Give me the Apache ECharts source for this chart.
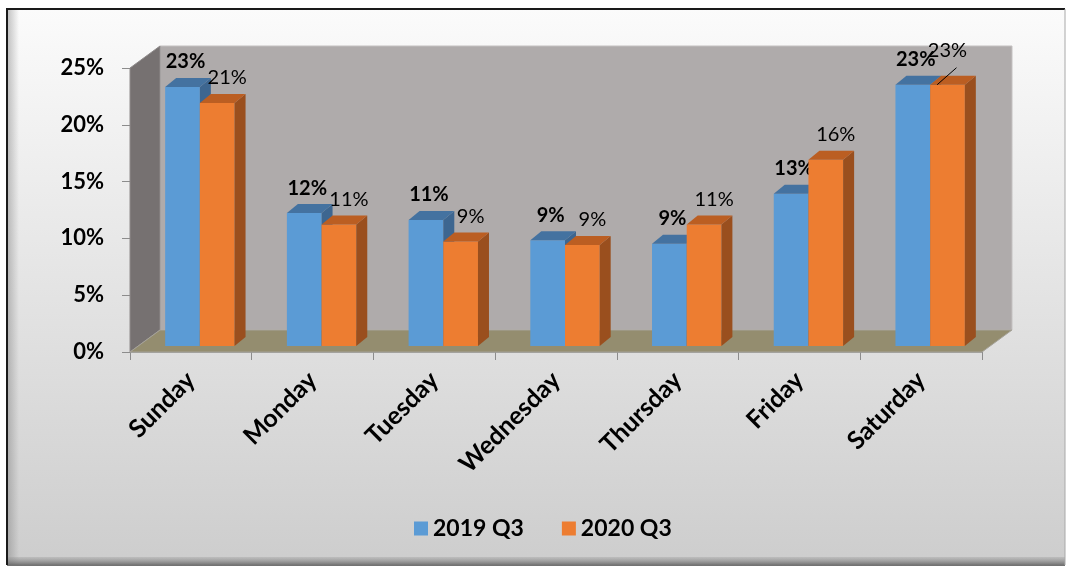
<!DOCTYPE html>
<html>
<head>
<meta charset="utf-8">
<script src="https://cdn.jsdelivr.net/npm/echarts@6/dist/echarts.min.js"></script>
<style>
  html, body { margin: 0; padding: 0; background: #fff; }
  #app { width: 1068px; height: 569px; }
</style>
</head>
<body>
<div id="app"></div>
<script>
const days = ['Sunday', 'Monday', 'Tuesday', 'Wednesday', 'Thursday', 'Friday', 'Saturday']
const q3_2019 = [0.228, 0.117, 0.111, 0.093, 0.090, 0.134, 0.230]
const q3_2020 = [0.214, 0.107, 0.092, 0.089, 0.107, 0.164, 0.230]
const seriesNames = ['2019 Q3', '2020 Q3']

const FONT = 'Lato'
const echart = echarts.init(document.getElementById('app'))

// oblique offsets for the fake 3d look
const WALL_DX = 30, WALL_DY = -22
const BAR_DX = 11, BAR_DY = -9
const BAR_SHIFT_X = 9, BAR_SHIFT_Y = -6

const pct = v => Math.round(v * 100) + '%'

function frameItem(params, api) {
  const cs = params.coordSys
  const x = cs.x, y = cs.y, w = cs.width, h = cs.height
  return {
    type: 'group',
    children: [
      {
        type: 'rect',
        shape: { x: x + WALL_DX, y: y + WALL_DY, width: w, height: h },
        style: { fill: '#afabab', stroke: '#c4c1c1', lineWidth: 1 }
      },
      {
        type: 'polygon',
        shape: { points: [[x, y], [x + WALL_DX, y + WALL_DY], [x + WALL_DX, y + h + WALL_DY], [x, y + h]] },
        style: { fill: '#767171', stroke: '#8f8b8b', lineWidth: 1 }
      },
      {
        type: 'polygon',
        shape: { points: [[x, y + h], [x + w, y + h], [x + w + WALL_DX, y + h + WALL_DY], [x + WALL_DX, y + h + WALL_DY]] },
        style: { fill: '#948d6f', stroke: '#a6a39a', lineWidth: 1 }
      }
    ]
  }
}

function barItem(which, colors, bold) {
  return function (params, api) {
    const i = api.value(0)
    const v = api.value(1)
    const b = api.coord([i, 0])
    const t = api.coord([i, v])
    const bw = api.size([1, 0])[0] * 0.285
    const x0 = b[0] + BAR_SHIFT_X - (which === 0 ? bw : 0)
    const x1 = x0 + bw
    const yb = b[1] + BAR_SHIFT_Y
    const yt = t[1] + BAR_SHIFT_Y
    let lx = (x0 + x1) / 2 + (which === 0 ? 3 : 10)
    let ly = yt - 25
    const children = [
      {
        type: 'rect',
        shape: { x: x0, y: yt, width: bw, height: yb - yt },
        style: { fill: colors[0] }
      },
      {
        type: 'polygon',
        shape: { points: [[x1, yb], [x1, yt], [x1 + BAR_DX, yt + BAR_DY], [x1 + BAR_DX, yb + BAR_DY]] },
        style: { fill: colors[2] }
      },
      {
        type: 'polygon',
        shape: { points: [[x0, yt], [x1, yt], [x1 + BAR_DX, yt + BAR_DY], [x0 + BAR_DX, yt + BAR_DY]] },
        style: { fill: colors[1] }
      }
    ]
    // second label collides with the first one when values are equal: lift it with a leader line
    if (which === 1 && Math.abs(q3_2019[i] - v) < 0.002) {
      lx -= 10
      ly -= 9
      children.push({
        type: 'line',
        shape: { x1: x0 + 7, y1: yt, x2: lx + 9, y2: ly + 17 },
        style: { stroke: '#000', lineWidth: 1 }
      })
    }
    children.push({
      type: 'text',
      x: lx,
      y: ly,
      style: {
        text: pct(v),
        fill: '#000',
        font: (bold ? 'bold ' : '') + '20px ' + FONT,
        align: 'center',
        verticalAlign: 'middle'
      }
    })
    return { type: 'group', children }
  }
}

echart.setOption({
  backgroundColor: '#fff',
  animation: false,
  graphic: [
    {
      type: 'rect',
      z: -10,
      shape: { x: 7, y: 9, width: 1058, height: 556 },
      style: {
        fill: {
          type: 'linear', x: 0, y: 0, x2: 0, y2: 1,
          colorStops: [
            { offset: 0, color: '#fbfbfb' },
            { offset: 1, color: '#cdcdcd' }
          ]
        }
      }
    },
    {
      type: 'rect',
      z: -9,
      shape: { x: 7, y: 9, width: 12, height: 556 },
      style: {
        fill: {
          type: 'linear', x: 0, y: 0, x2: 1, y2: 0,
          colorStops: [
            { offset: 0, color: 'rgba(120,120,120,0.45)' },
            { offset: 1, color: 'rgba(120,120,120,0)' }
          ]
        }
      }
    },
    {
      type: 'rect',
      z: -9,
      shape: { x: 7, y: 557, width: 1058, height: 9 },
      style: {
        fill: {
          type: 'linear', x: 0, y: 0, x2: 0, y2: 1,
          colorStops: [
            { offset: 0, color: 'rgba(150,150,150,0.3)' },
            { offset: 1, color: 'rgba(90,90,90,0.9)' }
          ]
        }
      }
    },
    {
      type: 'polyline',
      z: -8,
      shape: { points: [[7, 565], [7, 9], [1065, 9]] },
      style: { stroke: '#1a1a1a', lineWidth: 2, fill: null }
    },
    {
      type: 'line',
      z: -8,
      shape: { x1: 1065, y1: 9, x2: 1065, y2: 565 },
      style: { stroke: '#a8a8a8', lineWidth: 1 }
    }
  ],
  grid: {
    left: 130,
    right: 86,
    top: 68,
    bottom: 217
  },
  legend: {
    data: seriesNames,
    bottom: 24,
    left: 409,
    icon: 'rect',
    itemWidth: 14,
    itemHeight: 14,
    itemGap: 38,
    textStyle: {
      color: '#000',
      fontFamily: FONT,
      fontWeight: 'bold',
      fontSize: 23
    }
  },
  xAxis: {
    type: 'category',
    data: days,
    axisLine: { lineStyle: { color: '#a0a0a0', width: 1 } },
    axisTick: { show: true, length: 8, lineStyle: { color: '#8c8c8c' } },
    axisLabel: {
      rotate: 45,
      interval: 0,
      margin: 24,
      color: '#000',
      fontFamily: FONT,
      fontWeight: 'bold',
      fontSize: 25
    },
    splitLine: { show: false }
  },
  yAxis: {
    type: 'value',
    min: 0,
    max: 0.25,
    interval: 0.05,
    axisLine: { show: true, lineStyle: { color: '#a6a6a6' } },
    axisTick: { show: true, length: 8, lineStyle: { color: '#8c8c8c' } },
    axisLabel: {
      formatter: pct,
      margin: 26,
      color: '#000',
      fontFamily: FONT,
      fontWeight: 'bold',
      fontSize: 22
    },
    splitLine: { show: false }
  },
  series: [
    {
      type: 'custom',
      name: 'frame',
      silent: true,
      z: 1,
      renderItem: frameItem,
      data: [[0, 0]]
    },
    {
      type: 'custom',
      name: seriesNames[0],
      z: 3,
      itemStyle: { color: '#5b9bd5' },
      renderItem: barItem(0, ['#5b9bd5', '#4472a0', '#3d6690'], true),
      encode: { x: 0, y: 1 },
      data: q3_2019.map((v, i) => [i, v])
    },
    {
      type: 'custom',
      name: seriesNames[1],
      z: 4,
      itemStyle: { color: '#ed7d31' },
      renderItem: barItem(1, ['#ed7d31', '#bb5e22', '#9a4f1e'], false),
      encode: { x: 0, y: 1 },
      data: q3_2020.map((v, i) => [i, v])
    }
  ]
})
</script>
</body>
</html>
